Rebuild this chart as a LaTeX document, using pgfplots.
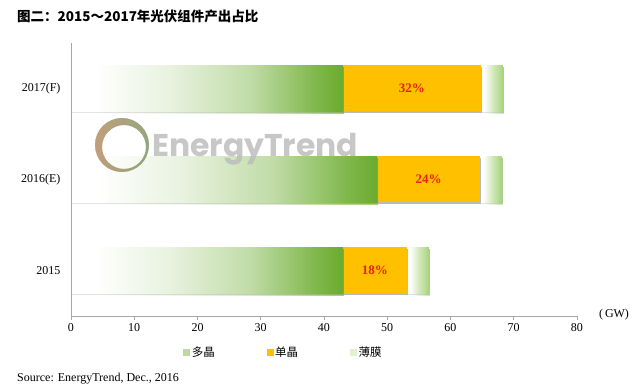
\documentclass[border=0pt]{standalone}
\usepackage{fontspec}
\usepackage{graphicx}
\usepackage{pgfplots}
\pgfplotsset{compat=1.18}
\usetikzlibrary{shadows}
\setmainfont{Liberation Serif}
\newfontfamily\cjk{Noto Sans CJK SC}
\newfontfamily\wm{Poppins}
\definecolor{polygreen}{HTML}{6AAB2D}
\definecolor{mono}{HTML}{FFC000}
\definecolor{thingreen}{HTML}{A6D47A}
\definecolor{lbl}{HTML}{E8200F}
\definecolor{axgray}{HTML}{A6A6A6}
\pgfdeclarehorizontalshading{polyshade}{100bp}{color(0bp)=(white); color(29.5bp)=(white); color(43bp)=(polygreen!15); color(58bp)=(polygreen!42); color(70bp)=(polygreen!85); color(75bp)=(polygreen); color(100bp)=(polygreen)}
\pgfdeclarehorizontalshading{thinshade}{100bp}{color(0bp)=(white); color(32bp)=(white); color(50bp)=(thingreen!45); color(75bp)=(thingreen); color(100bp)=(thingreen)}
\pgfplotsset{
  barshadow/.style={drop shadow={shadow xshift=1pt,shadow yshift=-2pt,fill=black!45,opacity=0.6}},
  poly/.style={draw=none, shade, shading=polyshade, barshadow},
  monobar/.style={draw=none, fill=mono, barshadow},
  thin/.style={draw=none, shade, shading=thinshade, barshadow},
  common/.style={at={(71pt,74pt)}, anchor=south west, scale only axis,
    width=506pt, height=273pt, xbar stacked, bar width=46pt,
    xmin=0, xmax=80, ymin=-0.5, ymax=2.5, clip=false},
}
\begin{document}
\begin{tikzpicture}
\useasboundingbox (0pt,0pt) rectangle (640pt,390pt);
\node[anchor=west,inner sep=0pt,font=\cjk\bfseries\fontsize{13.5}{15}\selectfont] at (17pt,374pt) {图二：2015～2017年光伏组件产出占比};
% 2015 bars
\begin{axis}[common, hide axis]
\addplot[poly] coordinates {(43.0,0)};
\addplot[monobar] coordinates {(10.1,0)};
\addplot[thin] coordinates {(3.5,0)};
\end{axis}
% 2016(E) bars
\begin{axis}[common, hide axis]
\addplot[poly] coordinates {(48.4,1)};
\addplot[monobar] coordinates {(16.3,1)};
\addplot[thin] coordinates {(3.4,1)};
\end{axis}
% 2017(F) bars and the axis itself
\begin{axis}[common,
  axis on top,
  axis x line*=bottom, axis y line*=left,
  axis line style={-, draw=axgray, line width=0.8pt},
  xtick={0,10,...,80}, ytick={0,1,2}, yticklabels={2015,2016(E),2017(F)},
  tick align=outside, major tick length=4pt,
  xtick style={axgray, line width=0.8pt}, ytick style={draw=none},
  tick label style={font=\fontsize{12}{14}\selectfont},
  yticklabel style={xshift=-3pt},
  /pgf/number format/assume math mode=true,
  legend style={draw=none, at={(0.42,-0.132)}, anchor=center, legend columns=3,
    font=\cjk\fontsize{11.5}{13}\selectfont, inner sep=0pt,
    /tikz/every even column/.append style={column sep=50pt}},
  legend cell align=left,
]
\addlegendimage{legend image code/.code={\fill[polygreen!45] (0pt,-3pt) rectangle (6pt,3pt);}}
\addlegendimage{legend image code/.code={\fill[mono] (0pt,-3pt) rectangle (6pt,3pt);}}
\addlegendimage{legend image code/.code={\fill[thingreen!35] (0pt,-3pt) rectangle (6pt,3pt);}}
\addplot[poly] coordinates {(43.0,2)};
\addplot[monobar] coordinates {(21.8,2)};
\addplot[thin] coordinates {(3.5,2)};
\legend{多晶,单晶,薄膜}
\coordinate (l2017) at (axis cs:53.9,2);
\coordinate (l2016) at (axis cs:56.55,1);
\coordinate (l2015) at (axis cs:48.05,0);
\end{axis}
\node[font=\bfseries\fontsize{13}{15}\selectfont, text=lbl] at (l2017) {32\%};
\node[font=\bfseries\fontsize{13}{15}\selectfont, text=lbl] at (l2016) {24\%};
\node[font=\bfseries\fontsize{13}{15}\selectfont, text=lbl] at (l2015) {18\%};
% watermark
\fill[even odd rule, left color=orange!70, right color=polygreen!80, opacity=0.4] (122pt,245pt) circle (27pt) (124pt,243pt) circle (22pt);
\node[anchor=base west, inner sep=0pt, text=black!26, opacity=0.85] at (152pt,233pt) {\resizebox{206pt}{!}{\wm\bfseries EnergyTrend}};
\node[font=\fontsize{12}{14}\selectfont] at (614pt,75pt) {(\,GW)};
\node[anchor=base west, inner sep=0pt, font=\fontsize{12}{14}\selectfont] at (17pt,8pt) {Source: EnergyTrend, Dec., 2016};
\end{tikzpicture}
\end{document}
